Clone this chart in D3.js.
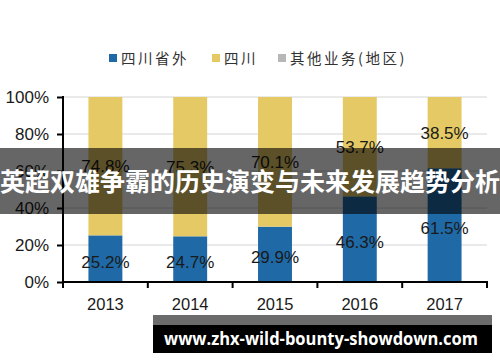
<!DOCTYPE html>
<html><head><meta charset="utf-8">
<script src="https://cdn.jsdelivr.net/npm/d3@7"></script>
<style>
html,body{margin:0;padding:0;background:#fff;}
svg{display:block;}
</style></head>
<body>
<svg id="c" width="500" height="362"></svg>
<script>
const years = ["2013","2014","2015","2016","2017"];
const outside = [25.2, 24.7, 29.9, 46.3, 61.5];   // 四川省外
const sichuan = [74.8, 75.3, 70.1, 53.7, 38.5];   // 四川
const other   = [0, 0, 0, 0, 0];                  // 其他业务(地区)
const seriesNames = ["四川省外","四川","其他业务(地区)"];
const yTicks = [0, 20, 40, 60, 80, 100];
const colors = ["#1f69a6", "#e4c965", "#b7b7b7"];

const svg = d3.select("#c");
const x = d3.scaleBand().domain(years).range([63, 487]).paddingInner(0.6).paddingOuter(0.3);
const y = d3.scaleLinear().domain([0, 100]).range([282, 97]);

const font = "'Liberation Sans', Arial, sans-serif";

// gridlines
svg.append("g").selectAll("line").data(yTicks.filter(d=>d>0)).join("line")
  .attr("x1", 63).attr("x2", 487)
  .attr("y1", d=>y(d)).attr("y2", d=>y(d))
  .attr("stroke", "#d4d4d4").attr("stroke-width", 1);

// stacked data
const rows = years.map((yr,i)=>({year:yr, a:outside[i], b:sichuan[i], c:other[i]}));
const stack = d3.stack().keys(["a","b","c"])(rows);

svg.append("g").selectAll("g").data(stack).join("g")
  .attr("fill", (d,i)=>colors[i])
  .selectAll("rect").data(d=>d).join("rect")
  .attr("x", d=>x(d.data.year))
  .attr("width", x.bandwidth())
  .attr("y", d=>y(d[1]))
  .attr("height", d=>y(d[0]) - y(d[1]));

// value labels
stack.slice(0,2).forEach((s, si)=>{
  svg.append("g").selectAll("text").data(s).join("text")
    .attr("x", d=>x(d.data.year) + x.bandwidth()/2)
    .attr("y", d=>(y(d[0]) + y(d[1]))/2 + (si===0 ? 3 : 0))
    .attr("dy", "0.36em")
    .attr("text-anchor", "middle")
    .attr("font-family", font).attr("font-size", 17).attr("fill", "#1a1a1a")
    .text(d=>(d[1]-d[0]).toFixed(1) + "%");
});

// y axis
const yAxis = svg.append("g").attr("transform", "translate(63,0)")
  .call(d3.axisLeft(y).tickValues(yTicks).tickFormat(d=>d+"%").tickSize(6).tickPadding(8));
yAxis.select(".domain").attr("stroke", "#000").attr("stroke-width", 2).attr("d", "M0,96V283");
yAxis.selectAll(".tick line").attr("stroke", "#000").attr("stroke-width", 2);
yAxis.selectAll(".tick text").attr("font-family", font).attr("font-size", 17).attr("fill", "#1a1a1a");

// x axis
const xb = svg.append("g").attr("transform", "translate(0,282)");
xb.append("line").attr("x1", 62).attr("x2", 488).attr("y1", 0).attr("y2", 0)
  .attr("stroke", "#000").attr("stroke-width", 2);
const bounds = years.map(d=>x(d) - x.step()*x.paddingInner()/2 - (x.step() - x.bandwidth())/2 + x.step()*x.paddingInner()/2);
const step = x.step();
const edges = years.map(d=>x(d) + x.bandwidth()/2 - step/2).concat([x(years[years.length-1]) + x.bandwidth()/2 + step/2]);
xb.selectAll("line.t").data(edges).join("line").attr("class","t")
  .attr("x1", d=>d).attr("x2", d=>d).attr("y1", 0).attr("y2", 6)
  .attr("stroke", "#000").attr("stroke-width", 2);
xb.selectAll("text").data(years).join("text")
  .attr("x", d=>x(d) + x.bandwidth()/2).attr("y", 22).attr("dy", "0.36em")
  .attr("text-anchor", "middle")
  .attr("font-family", font).attr("font-size", 16.5).attr("fill", "#1a1a1a")
  .text(d=>d);

// legend
const legendPos = [109, 212, 278];
const lg = svg.append("g");
seriesNames.forEach((n,i)=>{
  lg.append("rect").attr("x", legendPos[i]).attr("y", 54).attr("width", 8).attr("height", 8).attr("fill", colors[i]);
  lg.append("text").attr("x", legendPos[i] + 12).attr("y", 58.5).attr("dy", "0.36em")
    .attr("font-family", "'Noto Sans CJK SC', sans-serif").attr("font-size", 14.5)
    .attr("letter-spacing", 2.5).attr("fill", "#333").text(n);
});

// overlay title band
svg.append("rect").attr("x", 0).attr("y", 148).attr("width", 500).attr("height", 66)
  .attr("fill", "#000").attr("opacity", 0.6);
svg.append("text").attr("x", 250).attr("y", 182).attr("dy", "0.36em")
  .attr("text-anchor", "middle")
  .attr("font-family", "'Noto Sans CJK SC', sans-serif").attr("font-weight", "bold")
  .attr("font-size", 25).attr("fill", "#fff")
  .attr("textLength", 500).attr("lengthAdjust", "spacingAndGlyphs")
  .text("英超双雄争霸的历史演变与未来发展趋势分析");

// bottom banner
svg.append("rect").attr("x", 153).attr("y", 315).attr("width", 339).attr("height", 10).attr("fill", "#6b6b6b");
svg.append("rect").attr("x", 153).attr("y", 325).attr("width", 339).attr("height", 28).attr("fill", "#000");
svg.append("text").attr("x", 321).attr("y", 339).attr("dy", "0.36em")
  .attr("text-anchor", "middle")
  .attr("font-family", "'Open Sans', 'DejaVu Sans', sans-serif").attr("font-weight", "bold")
  .attr("font-size", 17).attr("fill", "#fff")
  .attr("textLength", 314).attr("lengthAdjust", "spacingAndGlyphs")
  .text("www.zhx-wild-bounty-showdown.com");
</script>
</body></html>
